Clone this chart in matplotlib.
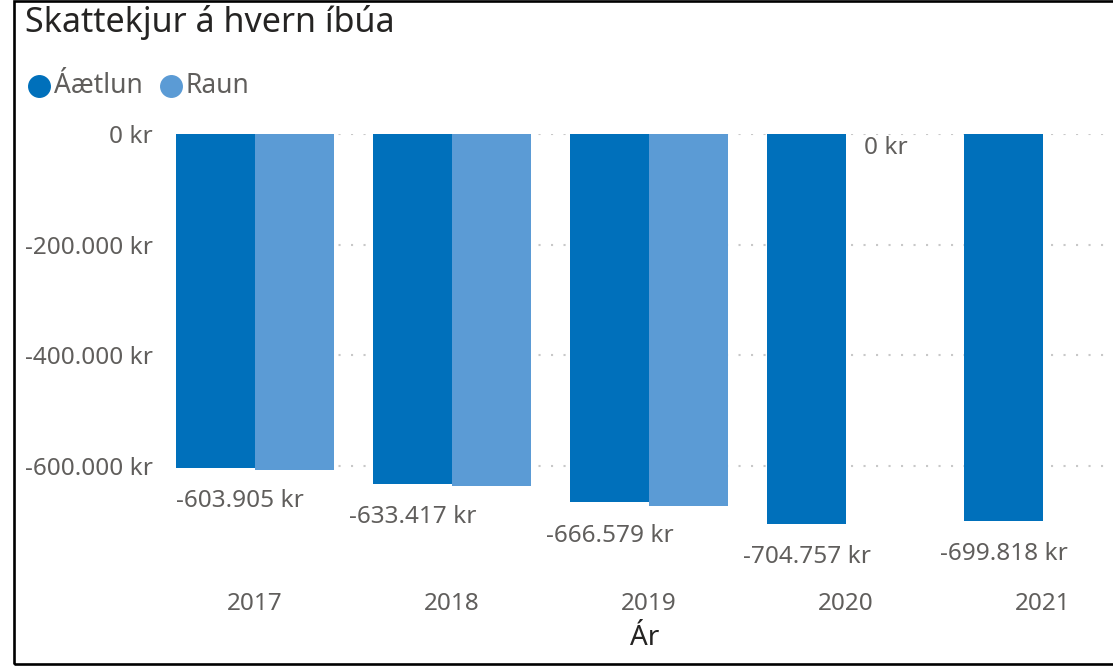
import numpy as np
import matplotlib
matplotlib.use("Agg")
from matplotlib import pyplot as plt
from matplotlib.lines import Line2D
from matplotlib.patches import Rectangle

plt.rcParams['font.family'] = ['Noto Sans', 'DejaVu Sans']

years = ['2017', '2018', '2019', '2020', '2021']
series = ['Áætlun', 'Raun']
aaetlun = [-603905, -633417, -666579, -704757, -699818]
raun = [-607800, -636500, -673500, 0, np.nan]
colors = ['#0070BB', '#5B9BD5']
grey = '#605E5C'
dark = '#252423'


def kr(v):
    return f"{v:,.0f}".replace(',', '.') + " kr"


W, H = 1113, 666
fig = plt.figure(figsize=(W / 100, H / 100), dpi=100)

# plot area in pixels: left 176, top 134, bottom ~571
ax = fig.add_axes([176 / W, (H - 570.7) / H, 1 - 176 / W, 436.7 / H])

x = np.arange(len(years))
bw = 0.4
ax.bar(x - bw / 2, aaetlun, bw, color=colors[0], zorder=2)
ax.bar(x + bw / 2, raun, bw, color=colors[1], zorder=2)

ax.set_xlim(-0.4, (W - 255) / 197)
ax.set_ylim(-790000, 0)
ax.set_yticks([0, -200000, -400000, -600000])
ax.set_yticklabels([kr(v) for v in ax.get_yticks()])
ax.set_xticks(x)
ax.set_xticklabels(years)
ax.tick_params(axis='y', length=0, pad=16.5, labelsize=17.5, labelcolor=grey)
ax.tick_params(axis='x', length=0, pad=15, labelsize=17.5, labelcolor=grey)
ax.yaxis.grid(True, linestyle=(0, (1, 5)), color='#C8C8C8', linewidth=1.5, zorder=1)
ax.set_axisbelow(True)
for s in ax.spines.values():
    s.set_visible(False)

ax.set_xlabel('Ár', fontsize=20, color=dark, labelpad=6)

# data labels
for i, v in enumerate(aaetlun):
    xc = x[i] - bw / 2
    ha = 'center'
    if i == 0:
        xc = x[i] - bw
        ha = 'left'
    ax.annotate(kr(v), (xc, v), xytext=(0, -24), textcoords='offset points',
                ha=ha, va='center', fontsize=17.5, color=grey, annotation_clip=False)
for i, v in enumerate(raun):
    if v == 0:
        ax.annotate(kr(v), (x[i] + bw / 2, v), xytext=(0, -10), textcoords='offset points',
                    ha='center', va='center', fontsize=17.5, color=grey)

# title and legend
fig.text(25 / W, 1 - 23 / H, 'Skattekjur á hvern íbúa', fontsize=24.5, color=dark,
         ha='left', va='center', fontweight='medium')
lx = [39, 171]
for name, c, px in zip(series, colors, lx):
    fig.add_artist(Line2D([px / W], [1 - 86 / H], marker='o', markersize=15.5,
                          color=c, linestyle='none', transform=fig.transFigure))
    fig.text((px + 15) / W, 1 - 86 / H, name, fontsize=19, color=grey,
             ha='left', va='center')

# frame around the visual
fig.add_artist(Rectangle((13.5 / W, 2 / H), 1.2, 1 - 2.5 / H, fill=False,
                         edgecolor='black', linewidth=1.9, transform=fig.transFigure))

fig.savefig('out.png', dpi=100)
